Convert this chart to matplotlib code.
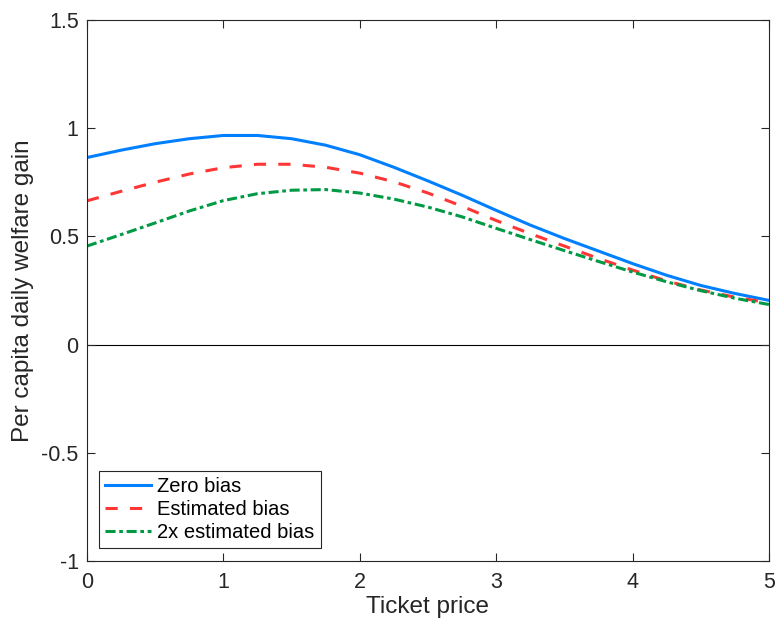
import numpy as np
import matplotlib.pyplot as plt

plt.rcParams['font.family'] = ['Liberation Sans', 'DejaVu Sans']
plt.rcParams['axes.unicode_minus'] = False

# ticket price grid and welfare gain
price = [0, 0.25, 0.5, 0.75, 1.0, 1.25, 1.5, 1.75, 2.0, 2.25, 2.5,
         2.75, 3.0, 3.25, 3.5, 3.75, 4.0, 4.25, 4.5, 4.75, 5.0]
zero_bias = [0.864, 0.898, 0.928, 0.951, 0.966, 0.966, 0.951, 0.921, 0.877, 0.819, 0.756,
             0.69, 0.62, 0.552, 0.49, 0.432, 0.374, 0.32, 0.273, 0.236, 0.204]
est_bias = [0.664, 0.708, 0.75, 0.788, 0.817, 0.833, 0.833, 0.819, 0.792, 0.752, 0.70,
            0.639, 0.573, 0.512, 0.455, 0.398, 0.344, 0.294, 0.252, 0.219, 0.193]
est_bias_2x = [0.455, 0.508, 0.562, 0.617, 0.665, 0.697, 0.713, 0.716, 0.70, 0.672, 0.635,
               0.59, 0.537, 0.485, 0.434, 0.384, 0.335, 0.29, 0.249, 0.214, 0.185]

col_blue = '#0080FF'
col_red = '#FF3636'
col_green = '#009944'
axcol = '#262626'

fig = plt.figure(figsize=(7.78, 6.23), dpi=100)
ax = fig.add_axes([0.1118, 0.0995, 0.8766, 0.8686])

ax.axhline(0, color='k', lw=0.8, zorder=1)
ax.plot(price, zero_bias, color=col_blue, lw=2.2, label='Zero bias')
ax.plot(price, est_bias, color=col_red, lw=2.2, ls=(0, (4, 4)), label='Estimated bias')
ax.plot(price, est_bias_2x, color=col_green, lw=2.2, ls=(0, (3.3, 1.2, 1.2, 1.2)),
        label='2x estimated bias')

ax.set_xlim(0, 5)
ax.set_ylim(-1, 1.5)
ax.set_xticks([0, 1, 2, 3, 4, 5])
ax.set_xticklabels(['0', '1', '2', '3', '4', '5'])
ax.set_yticks([-1, -0.5, 0, 0.5, 1, 1.5])
ax.set_yticklabels(['-1', '-0.5', '0', '0.5', '1', '1.5'])

ax.tick_params(direction='in', length=6, width=0.8, colors=axcol, labelsize=15.5,
               top=True, right=True)
ax.tick_params(axis='x', pad=8)
ax.tick_params(axis='y', pad=6)
for s in ax.spines.values():
    s.set_color(axcol)
    s.set_linewidth(0.8)

ax.set_xlabel('Ticket price', fontsize=17.5, color=axcol, labelpad=2)
ax.set_ylabel('Per capita daily welfare gain', fontsize=17.5, color=axcol, labelpad=5)

leg = ax.legend(loc='lower left', bbox_to_anchor=(0.0176, 0.024), borderaxespad=0,
                fontsize=14.5, handlelength=2.3, handletextpad=0.3, borderpad=0.3,
                labelspacing=0.2, fancybox=False, framealpha=1, edgecolor=axcol)
leg.get_frame().set_linewidth(0.8)

fig.savefig('out.png', dpi=100)
